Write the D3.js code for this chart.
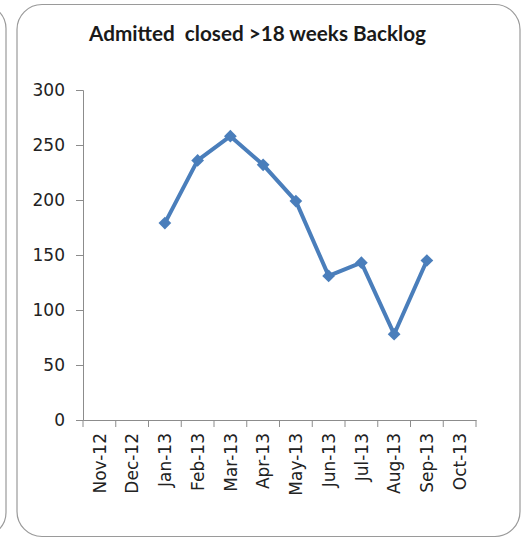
<!DOCTYPE html>
<html>
<head>
<meta charset="utf-8">
<script src="https://cdn.jsdelivr.net/npm/d3@7"></script>
<style>
  html, body { margin: 0; padding: 0; background: #fff; }
  svg { display: block; }
</style>
</head>
<body>
<svg id="chart" width="522" height="538"></svg>
<script>
// Monthly admitted (closed) backlog beyond 18 weeks
const months = ["Nov-12", "Dec-12", "Jan-13", "Feb-13", "Mar-13", "Apr-13",
                "May-13", "Jun-13", "Jul-13", "Aug-13", "Sep-13", "Oct-13"];
const backlog = [null, null, 179, 236, 258, 232, 199, 131, 143, 78, 145, null];
const yTicks = [0, 50, 100, 150, 200, 250, 300];
const chartTitle = "Admitted  closed >18 weeks Backlog";

const svg = d3.select("#chart");

// Panel frames: neighbouring panel edge on the left, main panel
svg.append("rect")
  .attr("x", -500).attr("y", 4.5).attr("width", 506).attr("height", 532)
  .attr("rx", 24).attr("ry", 24)
  .attr("fill", "none").attr("stroke", "#9a9a9a").attr("stroke-width", 1.2);
svg.append("rect")
  .attr("x", 17).attr("y", 4.5).attr("width", 503).attr("height", 532)
  .attr("rx", 25).attr("ry", 25)
  .attr("fill", "#fff").attr("stroke", "#9a9a9a").attr("stroke-width", 1.2);

const plot = { left: 83, right: 476, top: 90, bottom: 420 };

const x = d3.scaleBand().domain(months).range([plot.left, plot.right]).padding(0);
const y = d3.scaleLinear().domain([0, 300]).range([plot.bottom, plot.top]);

// Title, sized to span the panel's heading width
const title = svg.append("text")
  .attr("x", 257.5).attr("y", 41)
  .attr("text-anchor", "middle")
  .attr("font-family", "Lato, 'Open Sans', sans-serif")
  .attr("font-weight", "bold")
  .attr("font-size", 19)
  .attr("fill", "#1a1a1a")
  .style("white-space", "pre")
  .text(chartTitle);
{
  const len = title.node().getComputedTextLength();
  title.attr("font-size", 19 * 337 / len);
}

const tickFont = "'DejaVu Sans', Verdana, sans-serif";
const axisColor = "#8c8c8c";

// Y axis
const yAxis = svg.append("g")
  .attr("transform", `translate(${plot.left},0)`)
  .call(d3.axisLeft(y).tickValues(yTicks).tickSize(7).tickPadding(11));
yAxis.select(".domain").attr("stroke", axisColor);
yAxis.selectAll(".tick line").attr("stroke", axisColor);
yAxis.selectAll(".tick text")
  .attr("font-family", tickFont).attr("font-size", 17).attr("fill", "#222");

// X axis with category boundary ticks
const xAxis = svg.append("g")
  .attr("transform", `translate(0,${plot.bottom})`)
  .call(d3.axisBottom(x).tickSize(0).tickPadding(0));
xAxis.select(".domain").attr("stroke", axisColor);
xAxis.selectAll(".tick line").remove();
xAxis.selectAll(".tick text")
  .attr("font-family", tickFont).attr("font-size", 17).attr("fill", "#222")
  .attr("text-anchor", "end")
  .attr("transform", "rotate(-90)")
  .attr("x", -13).attr("y", 0).attr("dy", "0.36em");

const boundaries = months.map(m => x(m)).concat([x(months[months.length - 1]) + x.bandwidth()]);
xAxis.selectAll(".bound")
  .data(boundaries)
  .enter().append("line")
  .attr("class", "bound")
  .attr("x1", d => d).attr("x2", d => d)
  .attr("y1", 0).attr("y2", 7)
  .attr("stroke", axisColor);

// Series line
const color = "#4a7ebb";
const pts = months.map((m, i) => ({ m, v: backlog[i] }));
const line = d3.line()
  .defined(d => d.v !== null)
  .x(d => x(d.m) + x.bandwidth() / 2)
  .y(d => y(d.v));

svg.append("path")
  .datum(pts)
  .attr("d", line)
  .attr("fill", "none")
  .attr("stroke", color)
  .attr("stroke-width", 4)
  .attr("stroke-linejoin", "round");

// Diamond markers (squares turned 45 degrees)
svg.selectAll(".marker")
  .data(pts.filter(d => d.v !== null))
  .enter().append("path")
  .attr("class", "marker")
  .attr("d", d3.symbol().type(d3.symbolSquare).size(81))
  .attr("transform", d => `translate(${x(d.m) + x.bandwidth() / 2},${y(d.v)}) rotate(45)`)
  .attr("fill", color);
</script>
</body>
</html>
